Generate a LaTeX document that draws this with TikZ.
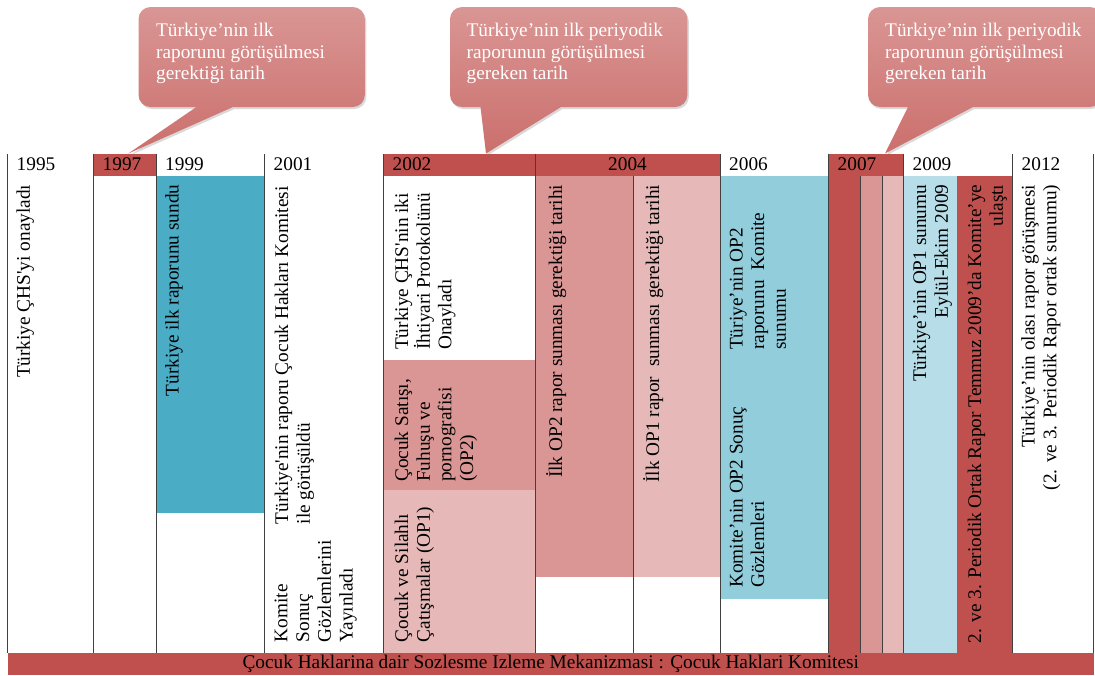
\documentclass[tikz,border=0pt]{standalone}
\usepackage{fontspec}
\setmainfont{Liberation Serif}
\usetikzlibrary{positioning,shadows}
\definecolor{redfull}{HTML}{C0504D}
\definecolor{redmid}{HTML}{D99694}
\definecolor{redlight}{HTML}{E6B9B8}
\definecolor{bluefull}{HTML}{4BACC6}
\definecolor{bluemid}{HTML}{92CDDC}
\definecolor{bluelight}{HTML}{B7DEE8}
\tikzset{
  year cell/.style={minimum width={#1}, minimum height=22pt, inner sep=0pt, outer sep=0pt},
  red cell/.style={year cell=#1, fill=redfull},
  year label/.style={anchor=west, inner sep=0pt, xshift=9pt},
  band/.style 2 args={anchor=north west, inner sep=0pt, outer sep=0pt,
    minimum width={#1}, minimum height={#2}},
  grid rule/.style={draw=black!75, line width=0.9pt},
  event text/.style={rotate=90, inner sep=0pt},
  flush top/.style={event text, anchor=north east, align=right},
  flush bottom/.style={event text, anchor=north west, align=left},
  speech bubble/.style={top color=redmid, middle color=redfull, bottom color=redfull!55!redmid,
    drop shadow={shadow xshift=1.5pt, shadow yshift=-2pt, opacity=0.3}},
  bubble text/.style={anchor=north west, inner sep=0pt, align=left, text=white}
}

\begin{document}
\begin{tikzpicture}[x=1pt, y=1pt, node distance=0pt, font=\fontsize{19.3}{21.7}\selectfont]
  \useasboundingbox (0,0) rectangle (1095,-675);

  % year row
  \node [year cell=86pt, anchor=north west] (y1995) at (7.5,-153.5) {};
  \node [red cell=62.5pt, right=of y1995] (y1997) {};
  \node [year cell=108.5pt, right=of y1997] (y1999) {};
  \node [year cell=119pt, right=of y1999] (y2001) {};
  \node [red cell=151.5pt, right=of y2001] (y2002) {};
  \node [red cell=185pt, right=of y2002] (y2004) {2004};
  \node [year cell=108.5pt, right=of y2004] (y2006) {};
  \node [red cell=75pt, right=of y2006] (y2007) {};
  \node [year cell=109pt, right=of y2007] (y2009) {};
  \node [year cell=81pt, right=of y2009] (y2012) {};

  \node [year label] (l1995) at (y1995.west) {1995};
  \node [year label] (l1997) at (y1997.west) {1997};
  \node [year label] (l1999) at (y1999.west) {1999};
  \node [year label] (l2001) at (y2001.west) {2001};
  \node [year label] (l2002) at (y2002.west) {2002};
  \node [year label] (l2006) at (y2006.west) {2006};
  \node [year label] (l2007) at (y2007.west) {2007};
  \node [year label] (l2009) at (y2009.west) {2009};
  \node [year label] (l2012) at (y2012.west) {2012};

  % coloured periods
  \node [band={108.5pt}{337pt}, fill=bluefull] (b1999) at (y1999.south west) {};
  \node [band={151.5pt}{130pt}, fill=redmid] (b2002a) at (383.5,-360) {};
  \node [band={151.5pt}{163pt}, fill=redlight, below=of b2002a] (b2002b) {};
  \node [band={98pt}{401.5pt}, fill=redmid] (b2004a) at (y2004.south west) {};
  \node [band={87pt}{401.5pt}, fill=redlight] (b2004b) at (b2004a.north east) {};
  \node [band={108.5pt}{423pt}, fill=bluemid] (b2006) at (y2006.south west) {};
  \node [band={31.5pt}{477.5pt}, fill=redfull] (b2007a) at (y2007.south west) {};
  \node [band={22.5pt}{477.5pt}, fill=redmid] (b2007b) at (b2007a.north east) {};
  \node [band={21pt}{477.5pt}, fill=redlight] (b2007c) at (b2007b.north east) {};
  \node [band={53.5pt}{477.5pt}, fill=bluelight] (b2009a) at (y2009.south west) {};
  \node [band={55.5pt}{477.5pt}, fill=redfull] (b2009b) at (b2009a.north east) {};

  \node [band={1086.5pt}{22pt}, fill=redfull] (bar) at (7.5,-653)
    {Çocuk Haklarina dair Sozlesme Izleme Mekanizmasi : Çocuk Haklari Komitesi};

  \foreach \c in {y1995,y1997,y1999,y2001,y2002,y2004,y2006,y2007,y2009,y2012,b2004b,b2007b,b2007c}
    \draw [grid rule] (\c.north west) -- (\c.north west |- bar.north);
  \draw [grid rule] (y2012.north east) -- (y2012.north east |- bar.north);

  % events
  \node [flush top] (t1995) at (16.2,-184.5) {Türkiye ÇHS\textquotesingle yi onayladı};
  \node [flush top] (t1999) at (165,-184.5) {Türkiye ilk raporunu sundu};
  \node [flush bottom] (t2001a) at (274.5,-524.5)
    {Türkiye\textquotesingle nin raporu Çocuk Hakları Komitesi\\ile görüşüldü};
  \node [flush bottom] (t2001b) at (274.5,-642.5) {Komite\\Sonuç\\Gözlemlerini\\Yayınladı};
  \node [flush bottom] (t2002a) at (394.5,-350)
    {Türkiye ÇHS\textquotesingle nin iki\\İhtiyari Protokolünü\\Onayladı};
  \node [flush bottom] (t2002b) at (394.5,-482) {Çocuk Satışı,\\Fuhuşu ve\\pornografisi\\(OP2)};
  \node [flush bottom] (t2002c) at (394.5,-642.5) {Çocuk ve Silahlı\\Çatışmalar (OP1)};
  \node [flush top] (t2004a) at (546,-184.5) {İlk OP2 rapor sunması gerektiği tarihi};
  \node [flush top] (t2004b) at (643,-184.5) {İlk OP1 rapor\ \ sunması gerektiği tarihi};
  \node [flush bottom] (t2006a) at (729.5,-350) {Türiye’nin OP2\\raporunu\ \ Komite\\sunumu};
  \node [flush bottom] (t2006b) at (729.5,-588) {Komite’nin OP2 Sonuç\\Gözlemleri};
  \node [flush top] (t2009a) at (912.5,-184.5) {Türkiye’nin OP1 sunumu\\Eylül-Ekim 2009};
  \node [flush top] (t2009b) at (967.5,-184.5)
    {2. ve 3. Periodik Ortak Rapor Temmuz 2009’da Komite’ye\\ulaştı};
  \node [flush top] (t2012) at (1021,-184.5)
    {Türkiye’nin olası rapor görüşmesi\\(2. ve 3. Periodik Rapor ortak sunumu)};

  % callouts
  \node [band={226.3pt}{100pt}] (k1) at (138.5,-7) {};
  \node [band={237.3pt}{100pt}] (k2) at (450,-7) {};
  \node [band={234pt}{100pt}] (k3) at (868,-7) {};

  \shade [speech bubble] (k1.south west) [rounded corners=12pt] -- (k1.north west) -- (k1.north east) -- (k1.south east) -- cycle
    [sharp corners] ([xshift=94.5pt]k1.south west) -- ([xshift=3.6pt]y1997.north) -- ([xshift=57.9pt]k1.south west) -- cycle;
  \shade [speech bubble] (k2.south west) [rounded corners=12pt] -- (k2.north west) -- (k2.north east) -- (k2.south east) -- cycle
    [sharp corners] ([xshift=111pt]k2.south west) -- ([xshift=26.75pt]y2002.north) -- ([xshift=30.5pt]k2.south west) -- cycle;
  \shade [speech bubble] (k3.south west) [rounded corners=12pt] -- (k3.north west) -- (k3.north east) -- (k3.south east) -- cycle
    [sharp corners] ([xshift=105pt]k3.south west) -- ([xshift=19pt]y2007.north) -- ([xshift=40pt]k3.south west) -- cycle;

  \node [bubble text] (c1) at (156,-23) {Türkiye’nin ilk\\raporunu görüşülmesi\\gerektiği tarih};
  \node [bubble text] (c2) at (466.5,-23) {Türkiye’nin ilk periyodik\\raporunun görüşülmesi\\gereken tarih};
  \node [bubble text] (c3) at (885,-23) {Türkiye’nin ilk periyodik\\raporunun görüşülmesi\\gereken tarih};
\end{tikzpicture}
\end{document}
